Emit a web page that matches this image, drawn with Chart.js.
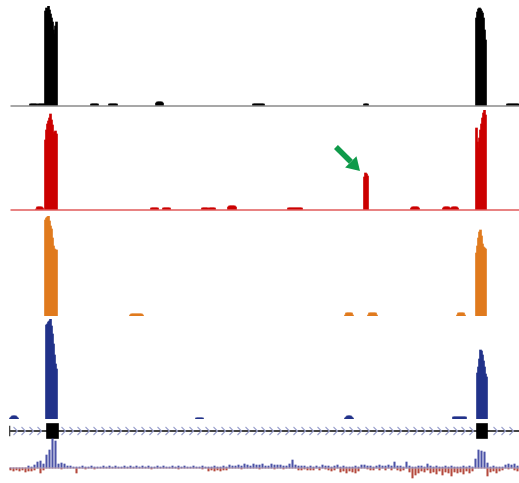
<!DOCTYPE html>
<html><head><meta charset="utf-8">
<script src="https://cdn.jsdelivr.net/npm/chart.js@4.4.1/dist/chart.umd.min.js"></script>
<style>
html,body{margin:0;padding:0;background:#fff;width:519px;height:483px;overflow:hidden;position:relative;}
canvas{position:absolute;left:9px;}
</style></head><body>
<canvas id="cBlack" width="510" height="104" style="top:4px"></canvas>
<canvas id="cRed" width="510" height="104" style="top:108px"></canvas>
<canvas id="cOrange" width="510" height="104" style="top:214px"></canvas>
<canvas id="cBlue" width="510" height="104" style="top:317px"></canvas>
<canvas id="cGene" width="510" height="20" style="top:421px"></canvas>
<canvas id="cCons" width="510" height="45" style="top:438px"></canvas>
<script>
// ---- data (bin index along the locus, signal value 0-100) ----
const blackPeaks = [
  [21, [2,2,2,2,2,2,2]],
  [29, [2,2,2,2,2,2,2]],
  [36, [95,98,97,100,96,92,88,84,76,72,80,84]],
  [82, [2,2,2,2,2,2,2]],
  [100, [2,2,2,2,2,2,2,2]],
  [147, [3,4,4,4,4,4,3]],
  [244, [2,2,2,2,2,2,2,2,2,2,2]],
  [355, [2,2,2,2]],
  [467, [88,94,97,98,97,95,93,88,76,66]],
  [498, [2,2,2,2,2,2,2,2,2,2,2,2]]
];
const redPeaks = [
  [27, [1,3,3,3,3,3,2]],
  [36, [70,80,86,89,92,96,90,85,76,78,79,76]],
  [142, [2,2,2,2,2,2,2]],
  [154, [2,2,2,2,2,2,2]],
  [193, [2,2,2,2,2,2]],
  [200, [2,2,2,2,2,2]],
  [219, [3,4,4,4,4,4,4,3]],
  [279, [2,2,2,2,2,2,2,2,2,2,2,2,2,2]],
  [355, [33,37,36,34]],
  [402, [2,3,3,3,3,3,3,2]],
  [434, [2,3,3,3,3,3,2]],
  [442, [2,3,3,3,3,3,2]],
  [467, [82,68,62,72,80,86,92,97,100,95]]
];
const orangePeaks = [
  [36, [96,98,99,100,95,90,87,78,70,67,66,66]],
  [121, [1,2,2,2,2,2,2,2,2,2,2,2,1]],
  [336, [1,3,3,3,3,3,3,1]],
  [359, [1,3,3,3,3,3,3,3,1]],
  [448, [1,3,3,3,3,3,3,1]],
  [467, [63,70,78,84,86,80,72,69,68,67]]
];
const bluePeaks = [
  [1, [1,2,3,3,3,3,2,1]],
  [37, [94,95,97,98,100,93,85,75,64,55,50]],
  [187, [1,1,1,1,1,1,1]],
  [336, [1,2,3,3,3,3,2,1]],
  [444, [2,2,2,2,2,2]],
  [450, [2,2,2,2,2,2,2]],
  [468, [46,52,60,69,68,64,58,52,45,42]]
];
const baselineSpan = [1, 510];
const exons = [[37, 49], [467, 478]];
const geneSpan = [-0.5, 509.5];
const arrowTarget = [355, 37];
// conservation, bins of 3
const consBin = 3;
const consUp = [
  0,0,0,0,0,0,2,1,3,6,
  7,4,13,18,29,27,4,5,4,2,
  2,1,1,1,2,1,1,2,1,1,
  1,2,1,2,1,2,1,1,2,1,
  2,1,2,1,2,1,2,1,1,2,
  1,2,1,1,2,1,2,1,2,1,
  1,2,1,1,2,1,1,1,2,1,
  1,2,1,3,2,2,3,2,4,3,
  2,4,3,3,4,2,2,4,3,3,
  3,2,2,4,8,3,2,2,2,1,
  2,1,2,1,3,2,2,1,2,3,
  1,2,1,1,1,2,1,3,3,2,
  2,1,2,3,2,2,3,2,6,2,
  2,1,6,2,1,1,2,2,1,4,
  2,1,2,1,1,2,1,2,1,1,
  1,2,1,2,1,9,18,17,16,5,
  1,2,1,1,1,3,4,3,4,2
];
const consDown = [
  2,3,2,3,2,4,3,3,2,0,
  5,2,0,0,0,0,0,1,0,0,
  0,0,5,0,0,1,0,0,1,0,
  0,0,0,0,0,0,0,0,0,0,
  0,0,0,0,0,0,0,1,0,0,
  0,0,0,0,0,0,1,0,0,0,
  0,0,0,0,1,0,3,2,3,2,
  3,2,2,0,0,0,0,1,0,0,
  0,0,0,1,0,0,0,0,1,0,
  0,1,0,0,0,0,2,2,1,2,
  2,2,0,2,0,1,2,3,2,0,
  4,3,5,3,4,5,3,0,0,1,
  2,2,0,2,0,2,0,2,0,2,
  3,2,0,4,10,7,5,3,4,2,
  5,4,6,3,7,4,5,8,4,5,
  4,6,3,5,3,0,0,0,0,8,
  4,3,5,3,2,0,1,0,2,3
];

// ---- helpers ----
function toPoints(segs){
  const pts = [];
  segs.forEach(([start, vals]) => vals.forEach((v, i) => pts.push({x: start + i, y: v})));
  return pts;
}
const xScale = {type:'linear', min:-0.5, max:509.5, display:false, offset:false};
const baseOpts = {
  responsive:false, animation:false, devicePixelRatio:1,
  plugins:{legend:{display:false}, tooltip:{enabled:false}, title:{display:false}}
};

const arrowPlugin = {
  id:'arrow',
  afterDatasetsDraw(chart){
    const ctx = chart.ctx, xs = chart.scales.x, ys = chart.scales.y;
    const tx = xs.getPixelForValue(arrowTarget[0]) - 4.5;
    const ty = ys.getPixelForValue(arrowTarget[1]) - 2;
    const ux = -Math.SQRT1_2, uy = -Math.SQRT1_2;
    const tailX = tx + ux*34, tailY = ty + uy*34;
    const headL = 13, headW = 8;
    const bx = tx + ux*headL, by = ty + uy*headL;
    ctx.save();
    ctx.strokeStyle = '#0f9a4a'; ctx.fillStyle = '#0f9a4a';
    ctx.lineWidth = 5.5; ctx.lineCap = 'butt';
    ctx.beginPath(); ctx.moveTo(tailX, tailY); ctx.lineTo(bx, by); ctx.stroke();
    ctx.beginPath();
    ctx.moveTo(tx, ty);
    ctx.lineTo(bx - uy*headW, by + ux*headW);
    ctx.lineTo(bx + uy*headW, by - ux*headW);
    ctx.closePath(); ctx.fill();
    ctx.restore();
  }
};

function trackChart(id, segs, color, baseColor, extraPlugins){
  const datasets = [];
  if (baseColor) datasets.push({type:'line', data:[{x:baselineSpan[0],y:0},{x:baselineSpan[1],y:0}],
    borderColor:baseColor, borderWidth:1.5, pointRadius:0, clip:false});
  datasets.push({type:'bar', data:toPoints(segs), backgroundColor:color, borderWidth:0,
    barThickness:2, grouped:false});
  return new Chart(document.getElementById(id), {
    type:'bar', data:{datasets},
    options:Object.assign({}, baseOpts, {
      layout:{padding:{top:2,bottom:2,left:0,right:0}},
      scales:{x:xScale, y:{min:0, max:100, display:false}}
    }),
    plugins: extraPlugins || []
  });
}

trackChart('cBlack', blackPeaks, '#000000', '#8a8a8a');
trackChart('cRed', redPeaks, '#cc0000', '#e05a5a', [arrowPlugin]);
trackChart('cOrange', orangePeaks, '#e07a1e', null);
trackChart('cBlue', bluePeaks, '#22338a', null);

// gene model
const chevronPlugin = {
  id:'chev',
  afterDatasetsDraw(chart){
    const ctx = chart.ctx, xs = chart.scales.x, a = chart.chartArea;
    const yc = (a.top + a.bottom)/2;
    const step = 8;
    ctx.save();
    ctx.strokeStyle = '#9aa0cc'; ctx.lineWidth = 1.1;
    for (let p = 6; p < geneSpan[1] - 3; p += step){
      if (exons.some(([s,e]) => p > s - 3 && p < e + 3)) continue;
      const x = xs.getPixelForValue(p);
      ctx.beginPath();
      ctx.moveTo(x - 2, yc - 4); ctx.lineTo(x + 2, yc); ctx.lineTo(x - 2, yc + 4);
      ctx.stroke();
    }
    ctx.restore();
  }
};
new Chart(document.getElementById('cGene'), {
  type:'bar',
  data:{labels:['gene'], datasets:[
    {data:[exons[0]], backgroundColor:'#000', barThickness:15, grouped:false, borderWidth:0},
    {data:[exons[1]], backgroundColor:'#000', barThickness:15, grouped:false, borderWidth:0},
    {data:[[geneSpan[0], geneSpan[0]+1]], backgroundColor:'#444', barThickness:10, grouped:false, borderWidth:0},
    {data:[geneSpan], backgroundColor:'#444', barThickness:1.3, grouped:false, borderWidth:0}
  ]},
  options:Object.assign({}, baseOpts, {
    indexAxis:'y',
    layout:{padding:0},
    scales:{x:xScale, y:{type:'category', display:false}}
  }),
  plugins:[chevronPlugin]
});

// conservation
new Chart(document.getElementById('cCons'), {
  type:'bar',
  data:{datasets:[
    {type:'line', data:[{x:baselineSpan[0],y:0},{x:baselineSpan[1],y:0}], borderColor:'#b9a3b8', borderWidth:1, pointRadius:0, clip:false},
    {data:consUp.map((v,i)=>({x:i*consBin+1, y:v})), backgroundColor:'#4a52a6', barThickness:1.4, grouped:false, borderWidth:0},
    {data:consDown.map((v,i)=>({x:i*consBin+1, y:-v})), backgroundColor:'#b4483c', barThickness:1.4, grouped:false, borderWidth:0}
  ]},
  options:Object.assign({}, baseOpts, {
    layout:{padding:0},
    scales:{x:xScale, y:{min:-15, max:30, display:false}}
  })
});
</script>
</body></html>
